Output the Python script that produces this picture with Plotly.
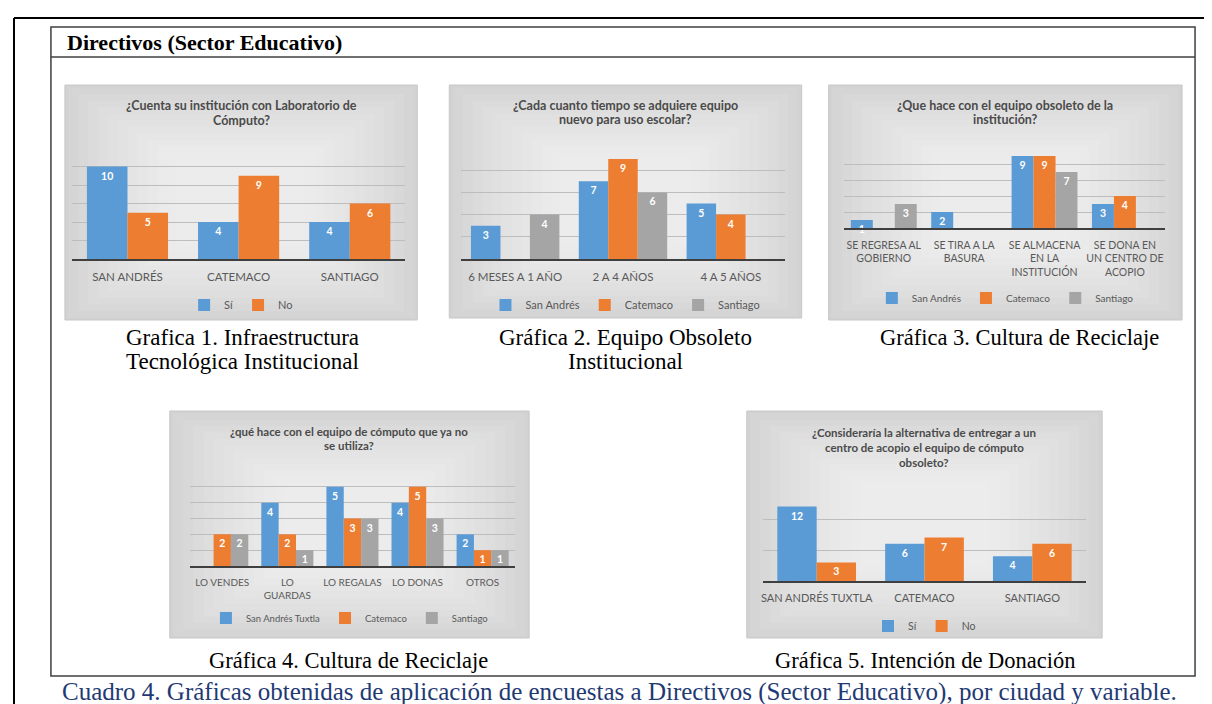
import plotly.graph_objects as go

W, H = 1212, 704

# ---- datos ----
cat1 = ["SAN ANDRÉS", "CATEMACO", "SANTIAGO"]
si1 = [10, 4, 4]
no1 = [5, 9, 6]

cat2 = ["6 MESES A 1 AÑO", "2 A 4 AÑOS", "4 A 5 AÑOS"]
sanandres2 = [3, 7, 5]
catemaco2 = [None, 9, 4]
santiago2 = [4, 6, None]

cat3 = ["SE REGRESA AL<br>GOBIERNO", "SE TIRA A LA<br>BASURA",
        "SE ALMACENA<br>EN LA<br>INSTITUCIÓN", "SE DONA EN<br>UN CENTRO DE<br>ACOPIO"]
sanandres3 = [1, 2, 9, 3]
catemaco3 = [None, None, 9, 4]
santiago3 = [3, None, 7, None]

cat4 = ["LO VENDES", "LO<br>GUARDAS", "LO REGALAS", "LO DONAS", "OTROS"]
sanandres4 = [None, 4, 5, 4, 2]
catemaco4 = [2, 2, 3, 5, 1]
santiago4 = [2, 1, 3, 3, 1]

cat5 = ["SAN ANDRÉS TUXTLA", "CATEMACO", "SANTIAGO"]
si5 = [12, 6, 4]
no5 = [3, 7, 6]

BLUE, ORANGE, GRAY = "#5B9BD5", "#ED7D31", "#A5A5A5"
FONT = "Lato"
TXT = "#595959"


def X(p):
    return p / W


def Y(p):
    return 1 - p / H


fig = go.Figure()
shapes = []
annotations = []
layout = {}

charts = [
    dict(n="", area=(62, 396, 140, 251), ymax=12, dtick=2, gap=0.27, panel=(55, 77, 408, 312),
         title=["¿Cuenta su institución con Laboratorio de", "Cómputo?"], ty=98, ly=297, tf=11.5, tfs=12.5,
         cats=cat1, series=[("Sí", si1, BLUE), ("No", no1, ORANGE)]),
    dict(n="2", area=(452, 776, 140, 251), ymax=10, dtick=2, gap=0.18, panel=(440, 77, 793, 310),
         title=["¿Cada cuanto tiempo se adquiere equipo", "nuevo para uso escolar?"], ty=97, ly=297, tf=11.5,
         tfs=12.5,
         cats=cat2, series=[("San Andrés", sanandres2, BLUE), ("Catemaco", catemaco2, ORANGE),
                            ("Santiago", santiago2, GRAY)]),
    dict(n="3", area=(835, 1157, 140, 220), ymax=10, dtick=2, gap=0.18, panel=(820, 77, 1174, 312),
         title=["¿Que hace con el equipo obsoleto de la", "institución?"], ty=97, ly=290, tf=10.5, tfs=12.5,
         cats=cat3, series=[("San Andrés", sanandres3, BLUE), ("Catemaco", catemaco3, ORANGE),
                            ("Santiago", santiago3, GRAY)]),
    dict(n="4", area=(180, 506, 463, 558), ymax=6, dtick=1, gap=0.2, panel=(160, 403, 520, 630),
         title=["¿qué hace con el equipo de cómputo que ya no", "se utiliza?"], ty=423, ly=610, tf=10,
         tfs=11.5,
         cats=cat4, series=[("San Andrés Tuxtla", sanandres4, BLUE), ("Catemaco", catemaco4, ORANGE),
                            ("Santiago", santiago4, GRAY)]),
    dict(n="5", area=(754, 1078, 480, 573), ymax=15, dtick=5, gap=0.27, panel=(738, 403, 1094, 630),
         title=["¿Consideraría la alternativa de entregar a un", "centro de acopio el equipo de cómputo",
                "obsoleto?"],
         ty=425, ly=618, tf=11, tfs=11.5,
         cats=cat5, series=[("Sí", si5, BLUE), ("No", no5, ORANGE)]),
]

for c in charts:
    n = c["n"]
    x0, x1, yt, yb = c["area"]
    k = len(c["series"])
    w = (1 - c["gap"]) / k
    for i, (name, vals, col) in enumerate(c["series"]):
        fig.add_trace(go.Bar(
            x=c["cats"], y=vals, name=name, marker_color=col, marker_line_width=0,
            width=w, offset=-(1 - c["gap"]) / 2 + i * w,
            text=vals, texttemplate="<b>%{y}</b>", textposition="inside", insidetextanchor="end",
            textangle=0, constraintext="none", cliponaxis=False,
            textfont=dict(color="white", size=10.5, family=FONT),
            xaxis="x" + n, yaxis="y" + n, legend="legend" + n,
        ))
    layout["xaxis" + n] = dict(
        domain=[X(x0), X(x1)], anchor="y" + n, showline=True, linecolor="#3F3F3F", linewidth=2,
        showgrid=False, ticks="", tickangle=0, tickfont=dict(family=FONT, size=c["tf"], color=TXT),
        ticklabelstandoff=6, fixedrange=True, type="category")
    layout["yaxis" + n] = dict(
        domain=[Y(yb), Y(yt)], anchor="x" + n, range=[0, c["ymax"]], dtick=c["dtick"],
        showgrid=True, gridcolor="#BDBDBD", gridwidth=1, zeroline=False,
        showticklabels=False, ticks="", fixedrange=True)
    px0, py0, px1, py1 = c["panel"]
    layout["legend" + n] = dict(
        x=X((px0 + px1) / 2), y=Y(c["ly"]), xanchor="center", yanchor="middle",
        orientation="h", bgcolor="rgba(0,0,0,0)", font=dict(family=FONT, size=c["tf"] - 0.5, color=TXT),
        itemwidth=30, tracegroupgap=0, itemclick=False)
    # fondo del panel (degradado aproximado)
    pw, ph = px1 - px0, py1 - py0
    shapes.append(dict(type="rect", xref="paper", yref="paper", layer="below",
                       x0=X(px0), x1=X(px1), y0=Y(py1), y1=Y(py0),
                       fillcolor="#D2D2D2", line=dict(color="#C8C8C8", width=1)))
    for j in range(12):
        f = 0.01 + j * 0.028
        shapes.append(dict(type="rect", xref="paper", yref="paper", layer="below",
                           x0=X(px0 + pw * f), x1=X(px1 - pw * f),
                           y0=Y(py1 - ph * f), y1=Y(py0 + ph * f),
                           fillcolor="rgba(255,255,255,0.085)", line=dict(width=0)))
    for li, line in enumerate(c["title"]):
        annotations.append(dict(text="<b>" + line + "</b>", x=X((px0 + px1) / 2), y=Y(c["ty"] + li * 14.5),
                                xref="paper", yref="paper", showarrow=False, xanchor="center",
                                yanchor="middle", font=dict(family=FONT, size=c["tfs"], color="#4A4A4A")))

# ---- marco y textos del cuadro ----
shapes += [
    dict(type="line", xref="paper", yref="paper", x0=X(4), x1=1, y0=Y(10), y1=Y(10),
         line=dict(color="black", width=2)),
    dict(type="line", xref="paper", yref="paper", x0=X(4), x1=X(4), y0=Y(10), y1=0,
         line=dict(color="black", width=2)),
    dict(type="rect", xref="paper", yref="paper", x0=X(41), x1=X(1187), y0=Y(668), y1=Y(19),
         line=dict(color="#404040", width=1.5)),
    dict(type="line", xref="paper", yref="paper", x0=X(41), x1=X(1187), y0=Y(49), y1=Y(49),
         line=dict(color="#404040", width=1.5)),
]

SERIF = "Liberation Serif"
captions = [
    ("<b>Directivos (Sector Educativo)</b>", 55, 34, "left", 22, "black"),
    ("Grafica 1. Infraestructura", 233, 329, "center", 23, "black"),
    ("Tecnológica Institucional", 233, 353, "center", 23, "black"),
    ("Gráfica 2. Equipo Obsoleto", 617, 329, "center", 23, "black"),
    ("Institucional", 617, 353, "center", 23, "black"),
    ("Gráfica 3. Cultura de Reciclaje", 1011, 329, "center", 22.5, "black"),
    ("Gráfica 4. Cultura de Reciclaje", 339, 652, "center", 22.5, "black"),
    ("Gráfica 5. Intención de Donación", 917, 652, "center", 22.5, "black"),
    ("Cuadro 4. Gráficas obtenidas de aplicación de encuestas a Directivos (Sector Educativo), por ciudad y variable.",
     611, 684, "center", 25, "#1F3A73"),
]
for t, x, y, anc, s, col in captions:
    annotations.append(dict(text=t, x=X(x), y=Y(y), xref="paper", yref="paper", showarrow=False,
                            xanchor=anc, yanchor="middle", font=dict(family=SERIF, size=s, color=col)))

fig.update_layout(
    width=W, height=H, margin=dict(l=0, r=0, t=0, b=0),
    paper_bgcolor="white", plot_bgcolor="rgba(0,0,0,0)",
    barmode="group", shapes=shapes, annotations=annotations, **layout,
)
fig.write_html("out.html")
